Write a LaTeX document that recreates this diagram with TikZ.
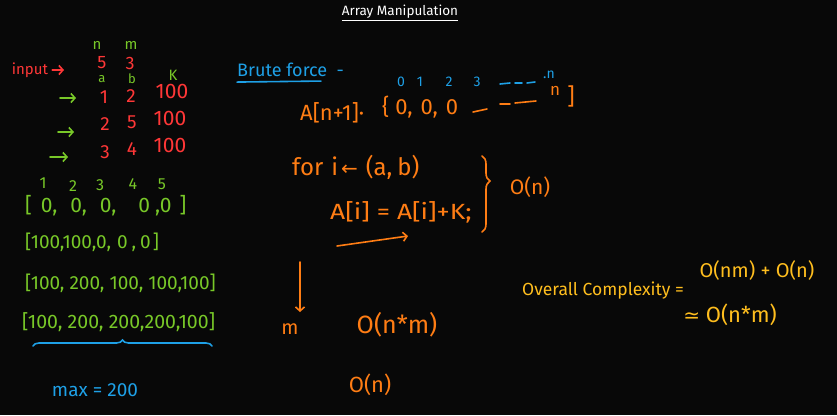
\documentclass[tikz,border=0pt]{standalone}
\usepackage{fontspec}
\setmainfont{Fira Sans}
\newfontfamily\symfont{DejaVu Sans}
\usetikzlibrary{arrows.meta,decorations.pathreplacing}
\definecolor{bg}{RGB}{8,8,8}
\definecolor{hred}{RGB}{255,55,55}
\definecolor{hgreen}{RGB}{120,200,40}
\definecolor{hblue}{RGB}{30,160,230}
\definecolor{horange}{RGB}{255,125,20}
\definecolor{hyellow}{RGB}{255,190,30}
\newcommand{\fs}[1]{\fontsize{#1}{#1}\selectfont}
\begin{document}
\begin{tikzpicture}[x=1pt,y=-1pt,
  t/.style={inner sep=0pt},
  arr/.style={line width=1.6pt, line cap=round, -{Straight Barb[length=4pt,width=9pt]}},
  stroke/.style={line width=1.6pt, line cap=round}]
\fill[bg] (0,0) rectangle (837,415);
\useasboundingbox (0,0) rectangle (837,415);
% title
\node[t, text=white, font=\fs{13.5}] (title) at (400,13) {\underline{Array Manipulation}};
% left: input
\node[t,text=hgreen,font=\fs{15}] (nn) at (97,45) {n};
\node[t,text=hgreen,font=\fs{15}] (mm) at (131,45) {m};
\node[t,text=hred,font=\fs{15}] (input) at (30,70) {input};
\coordinate (inEnd) at (64,70);
\draw[arr,hred] ([xshift=4pt]input.east) -- (inEnd);
\node[t,text=hred,font=\fs{18}] (five) at (102,63) {5};
\node[t,text=hred,font=\fs{18}] (three) at (130,63) {3};
\node[t,text=hgreen,font=\fs{13}] (la) at (102,79) {a};
\node[t,text=hgreen,font=\fs{13}] (lb) at (132,79) {b};
\node[t,text=hgreen,font=\fs{15}] (lk) at (173,75) {K};
\node[t,text=hred,font=\fs{19}] (r1a) at (104,97) {1};
\node[t,text=hred,font=\fs{19}] (r1b) at (131,96) {2};
\node[t,text=hred,font=\fs{21}] (r1k) at (172,91) {100};
\node[t,text=hred,font=\fs{19}] (r2a) at (105,124) {2};
\node[t,text=hred,font=\fs{19}] (r2b) at (132,122) {5};
\node[t,text=hred,font=\fs{21}] (r2k) at (170,118) {100};
\node[t,text=hred,font=\fs{19}] (r3a) at (105,152) {3};
\node[t,text=hred,font=\fs{19}] (r3b) at (132,149) {4};
\node[t,text=hred,font=\fs{21}] (r3k) at (170,145) {100};
\coordinate (g1s) at (60,98); \coordinate (g1e) at (76,98);
\coordinate (g2s) at (58,132); \coordinate (g2e) at (74,132);
\coordinate (g3s) at (50,157); \coordinate (g3e) at (68,157);
\draw[arr,hgreen] (g1s) -- (g1e);
\draw[arr,hgreen] (g2s) -- (g2e);
\draw[arr,hgreen] (g3s) -- (g3e);
% indices
\node[t,text=hgreen,font=\fs{16}] (i1) at (43,183) {1};
\node[t,text=hgreen,font=\fs{16}] (i2) at (73,186) {2};
\node[t,text=hgreen,font=\fs{16}] (i3) at (100,185) {3};
\node[t,text=hgreen,font=\fs{16}] (i4) at (133,184) {4};
\node[t,text=hgreen,font=\fs{16}] (i5) at (162,184) {5};
% arrays
\node[t,text=hgreen,font=\fs{21},anchor=west] (arr1) at (25,206) {[\hspace{9pt}0,\hspace{13pt}0,\hspace{13pt}0,\hspace{22pt}0\hspace{5pt},0\hspace{8pt}]};
\node[t,text=hgreen,font=\fs{19},anchor=west] (arr2) at (25,242) {[100,100,0,\hspace{6pt}0\hspace{4pt},\hspace{4pt}0\hspace{2pt}]};
\node[t,text=hgreen,font=\fs{19},anchor=west] (arr3) at (25,283) {[100, 200, 100, 100,100]};
\node[t,text=hgreen,font=\fs{19.5},anchor=west] (arr4) at (22,322) {[100, 200, 200,200,100]};
\coordinate (brA) at (33,346); \coordinate (brB) at (212,346);
\draw[hblue,stroke,decorate,decoration={brace,amplitude=6pt}] (brA) -- (brB);
\node[t,text=hblue,font=\fs{19}] (max) at (95,390) {max = 200};
% right: brute force
\node[t,text=hblue,font=\fs{18},anchor=west] (bf) at (237,70) {Brute force \ -};
\draw[hblue,stroke] ([yshift=-5pt]bf.south west) -- ([yshift=-4pt,xshift=84pt]bf.south west);
\node[t,text=hblue,font=\fs{14}] (j0) at (401,82) {0};
\node[t,text=hblue,font=\fs{14}] (j1) at (420,82) {1};
\node[t,text=hblue,font=\fs{14}] (j2) at (449,82) {2};
\node[t,text=hblue,font=\fs{14}] (j3) at (477,82) {3};
\draw[hblue,stroke] (500,84) -- (510,83) (515,83) -- (522,83) (527,83) -- (535,82);
\node[t,text=hblue,font=\fs{14}] (jn) at (549,75) {.n};
\node[t,text=horange,font=\fs{22},anchor=west] (arrA) at (300,113) {A[n+1]·};
\node[t,text=horange,font=\fs{22},anchor=west] (zeros) at (382,107) {\{\hspace{6pt}0,\hspace{8pt}0,\hspace{8pt}0};
\draw[horange,stroke] (473,112) -- (487,109) (500,104) -- (510,104) (515,103) -- (536,101);
\node[t,text=horange,font=\fs{17}] (an) at (555,91) {n};
\node[t,text=horange,font=\fs{23}] (ab) at (571,96) {]};
% loop
\node[t,text=horange,font=\fs{24},anchor=west] (for) at (292,167) {for\hspace{8pt}i\hspace{3pt}{\symfont\fs{20}←}\hspace{8pt}(a,\hspace{5pt}b)};
\node[t,text=horange,font=\fs{22},anchor=west,xscale=1.2] (assign) at (330,212) {A[i] = A[i]+K;};
\coordinate (lpS) at (337,246); \coordinate (lpE) at (408,236);
\draw[arr,horange] (lpS) -- (lpE);
\coordinate (cbA) at (482,156); \coordinate (cbB) at (482,232);
\draw[horange,stroke,decorate,decoration={brace,amplitude=8pt,aspect=0.33}] (cbA) -- (cbB);
\node[t,text=horange,font=\fs{21}] (on1) at (530,187) {O(n)};
\coordinate (dnS) at (300,262); \coordinate (dnE) at (300,312);
\draw[arr,horange] (dnS) -- (dnE);
\node[t,text=horange,font=\fs{20}] (mm2) at (290,329) {m};
\node[t,text=horange,font=\fs{25}] (onm) at (397,325) {O(n*m)};
\node[t,text=horange,font=\fs{22}] (on2) at (370,385) {O(n)};
% overall
\node[t,text=hyellow,font=\fs{17.5}] (overall) at (603,291) {Overall Complexity =};
\node[t,text=hyellow,font=\fs{20}] (sum) at (757,270) {O(nm) + O(n)};
\node[t,text=hyellow,font=\fs{22}] (approx) at (730,315) {{\symfont\fs{20}≃} O(n*m)};
\end{tikzpicture}
\end{document}
